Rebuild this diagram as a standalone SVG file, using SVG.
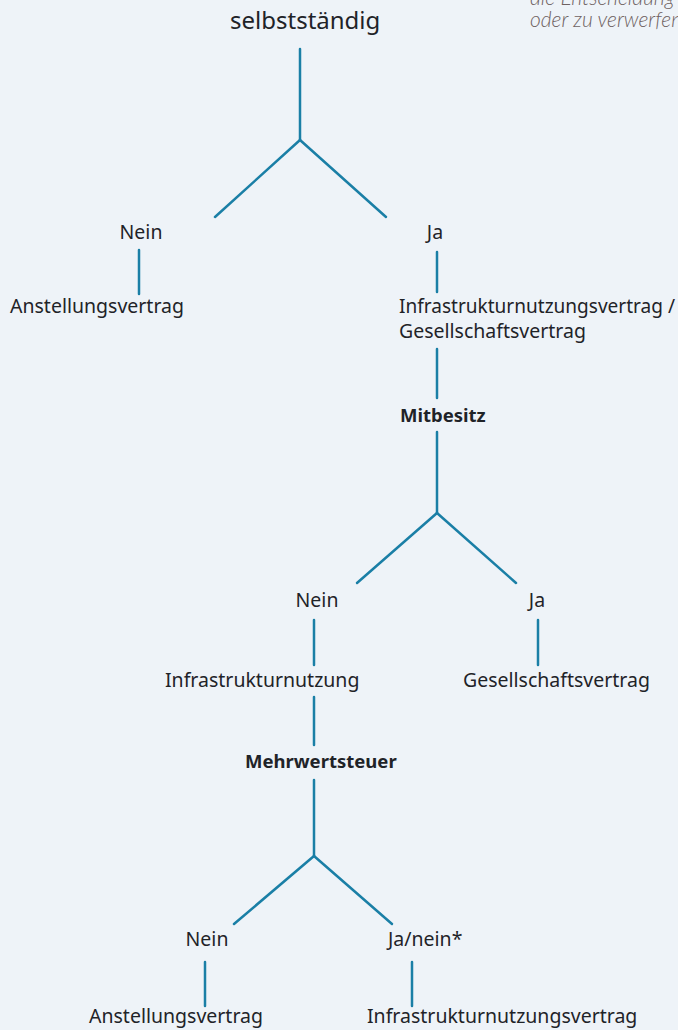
<svg xmlns="http://www.w3.org/2000/svg" width="678" height="1030" viewBox="0 0 678 1030">
<style>
.t{font-family:"Noto Sans","Liberation Sans",sans-serif;font-size:19.5px;fill:#1f2328}
.b{font-weight:bold;font-size:18.5px}
.h{font-size:24px}
.n{font-family:"Lato","Liberation Sans",sans-serif;font-style:italic;font-weight:300;font-size:21px;fill:#6e6262}
.c line{stroke:#1a7fa6;stroke-width:2.5;stroke-linecap:round}
</style>
<rect width="678" height="1030" fill="#eef3f8"/>
<g id="note">
<text class="n" x="530" y="5">die Entscheidung</text>
<text class="n" x="530" y="27">oder zu verwerfen</text>
</g>
<g class="c" id="connectors">
<line x1="300" y1="49" x2="300" y2="140"/>
<line x1="300" y1="140" x2="215" y2="217"/>
<line x1="300" y1="140" x2="386" y2="217"/>
<line x1="139" y1="250" x2="139" y2="294"/>
<line x1="437" y1="252" x2="437" y2="292"/>
<line x1="437" y1="349" x2="437" y2="398"/>
<line x1="437" y1="432" x2="437" y2="513"/>
<line x1="437" y1="513" x2="357" y2="583"/>
<line x1="437" y1="513" x2="516" y2="583"/>
<line x1="314" y1="620" x2="314" y2="665"/>
<line x1="538" y1="620" x2="538" y2="665"/>
<line x1="314" y1="697" x2="314" y2="745"/>
<line x1="314" y1="780" x2="314" y2="856"/>
<line x1="314" y1="856" x2="234" y2="924"/>
<line x1="314" y1="856" x2="392" y2="924"/>
<line x1="205" y1="962" x2="205" y2="1006"/>
<line x1="412" y1="962" x2="412" y2="1006"/>
</g>
<g id="n-root"><text class="t h" x="230" y="29">selbstständig</text></g>
<g id="n-nein1"><text class="t" x="141" y="239" text-anchor="middle">Nein</text></g>
<g id="n-anst1"><text class="t" x="10" y="313">Anstellungsvertrag</text></g>
<g id="n-ja1"><text class="t" x="435" y="239" text-anchor="middle">Ja</text></g>
<g id="n-infra1"><text class="t" x="399" y="313" textLength="276" lengthAdjust="spacingAndGlyphs">Infrastrukturnutzungsvertrag /</text><text class="t" x="399" y="338">Gesellschaftsvertrag</text></g>
<g id="n-mitbesitz"><text class="t b" x="400" y="422">Mitbesitz</text></g>
<g id="n-nein2"><text class="t" x="317" y="607" text-anchor="middle">Nein</text></g>
<g id="n-ja2"><text class="t" x="537" y="607" text-anchor="middle">Ja</text></g>
<g id="n-infranutz"><text class="t" x="165" y="687">Infrastrukturnutzung</text></g>
<g id="n-gesell"><text class="t" x="463" y="687">Gesellschaftsvertrag</text></g>
<g id="n-mwst"><text class="t b" x="245" y="768">Mehrwertsteuer</text></g>
<g id="n-nein3"><text class="t" x="207" y="946" text-anchor="middle">Nein</text></g>
<g id="n-janein"><text class="t" x="388" y="946">Ja/nein*</text></g>
<g id="n-anst2"><text class="t" x="89" y="1023">Anstellungsvertrag</text></g>
<g id="n-infra2"><text class="t" x="367" y="1023">Infrastrukturnutzungsvertrag</text></g>
</svg>
